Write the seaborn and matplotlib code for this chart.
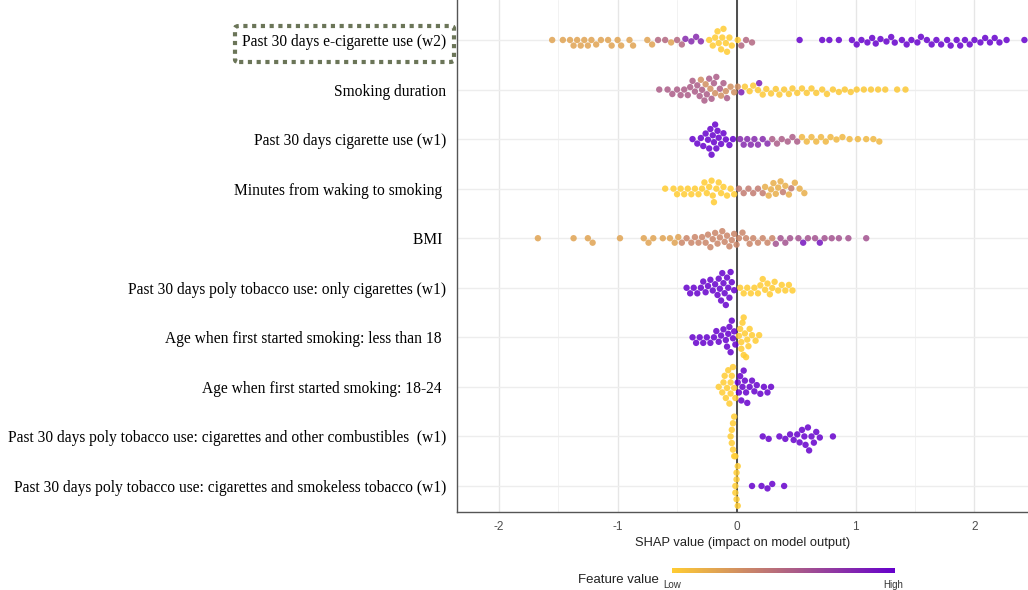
import matplotlib
matplotlib.use("Agg")
import matplotlib.pyplot as plt
from matplotlib.colors import LinearSegmentedColormap, Normalize
from matplotlib.cm import ScalarMappable
from matplotlib.patches import FancyBboxPatch
import pandas as pd
import seaborn as sns

# feature order, top to bottom
features = [
    "Past 30 days e-cigarette use (w2)",
    "Smoking duration",
    "Past 30 days cigarette use (w1)",
    "Minutes from waking to smoking ",
    "BMI ",
    "Past 30 days poly tobacco use: only cigarettes (w1)",
    "Age when first started smoking: less than 18 ",
    "Age when first started smoking: 18-24 ",
    "Past 30 days poly tobacco use: cigarettes and other combustibles  (w1)",
    "Past 30 days poly tobacco use: cigarettes and smokeless tobacco (w1)",
]

# SHAP values, grouped by approximate feature value (colour)
ecig_low = [-0.23, -0.20, -0.18, -0.16, -0.15, -0.13, -0.12, -0.11, -0.09, -0.08, -0.06,
            -0.04, 0.01]
ecig_orange = [-1.55, -1.46, -1.40, -1.37, -1.34, -1.31, -1.28, -1.25, -1.22, -1.18, -1.14,
               -1.08, -1.05, -1.00, -0.97, -0.90, -0.87, -0.75, -0.71, -0.55]
ecig_mid = [-0.66, -0.60, -0.50, -0.46, 0.04, 0.08, 0.13]
ecig_purple = [-0.43, -0.38, -0.34, -0.30]
ecig_high = [0.53, 0.72, 0.78, 0.86, 0.97, 1.01, 1.05, 1.10, 1.14, 1.17, 1.21, 1.26, 1.30, 1.33,
             1.39, 1.43, 1.47, 1.52, 1.55, 1.60, 1.64, 1.68, 1.72, 1.77, 1.80, 1.85, 1.88, 1.92,
             1.96, 2.00, 2.05, 2.09, 2.13, 2.17, 2.21, 2.27, 2.42]

dur_mid = [-0.65, -0.58, -0.54, -0.50, -0.47, -0.44, -0.41, -0.39, -0.37, -0.35, -0.33, -0.31,
           -0.29, -0.27, -0.25, -0.23, -0.21, -0.19, -0.17, -0.14, -0.11, -0.08]
dur_orange = [-0.30, -0.26, -0.22, -0.18, -0.13, -0.09, -0.05, -0.02, 0.01]
dur_high = [0.04, 0.19]
dur_low = [0.07, 0.11, 0.14, 0.18, 0.22, 0.25, 0.29, 0.33, 0.36, 0.40, 0.44, 0.47, 0.51, 0.55,
           0.59, 0.63, 0.67, 0.72, 0.76, 0.81, 0.86, 0.91, 0.96, 1.01, 1.07, 1.13, 1.19, 1.25,
           1.35, 1.42]

cig_high = [-0.37, -0.33, -0.30, -0.28, -0.26, -0.24, -0.23, -0.22, -0.21, -0.20, -0.19, -0.18,
            -0.17, -0.16, -0.15, -0.13, -0.11, -0.09, -0.06, -0.03]
cig_purplish = [0.03, 0.06, 0.09, 0.12, 0.15, 0.18, 0.22, 0.26]
cig_mid = [0.30, 0.34, 0.38, 0.43, 0.47, 0.51]
cig_low = [0.55, 0.59, 0.63, 0.67, 0.71, 0.75, 0.79, 0.84, 0.89, 0.95, 1.02, 1.09, 1.15, 1.20]

wake_low = [-0.60, -0.53, -0.50, -0.47, -0.44, -0.41, -0.38, -0.35, -0.32, -0.29, -0.27, -0.25,
            -0.23, -0.21, -0.20, -0.19, -0.17, -0.15, -0.13, -0.11, -0.08, -0.05, -0.02]
wake_mid = [0.02, 0.06, 0.10, 0.14, 0.18, 0.22, 0.39, 0.46]
wake_orange = [0.24, 0.27, 0.29, 0.31, 0.33, 0.35, 0.37, 0.41, 0.44, 0.49, 0.53, 0.57]

bmi_orange = [-1.67, -1.37, -1.25, -1.21, -0.98, -0.78, -0.74, -0.70, -0.62, -0.56, -0.52, -0.49]
bmi_mix = [-0.46, -0.42, -0.38, -0.35, -0.32, -0.29, -0.26, -0.24, -0.22, -0.20, -0.18, -0.16,
           -0.14, -0.12, -0.10, -0.08, -0.06, -0.04, -0.02, 0.00, 0.02, 0.05, 0.08, 0.11, 0.14,
           0.18, 0.22, 0.26, 0.30]
bmi_mid = [0.33, 0.37, 0.41, 0.45, 0.52, 0.60, 0.66, 0.74, 0.80, 0.86, 0.94, 1.09]
bmi_high = [0.56, 0.70]

only_high = [-0.42, -0.39, -0.36, -0.33, -0.30, -0.28, -0.26, -0.24, -0.22, -0.20, -0.18, -0.16,
             -0.15, -0.14, -0.13, -0.12, -0.11, -0.10, -0.09, -0.08, -0.07, -0.06, -0.05, -0.04,
             -0.02]
only_low = [0.03, 0.06, 0.09, 0.12, 0.15, 0.18, 0.20, 0.22, 0.24, 0.26, 0.28, 0.30, 0.32, 0.35,
            0.38, 0.41, 0.44, 0.47]

lt18_high = [-0.37, -0.34, -0.31, -0.28, -0.25, -0.22, -0.19, -0.17, -0.15, -0.13, -0.11, -0.09,
             -0.08, -0.07, -0.06, -0.05, -0.04, -0.03, -0.02, -0.01]
lt18_low = [0.02, 0.03, 0.04, 0.04, 0.05, 0.06, 0.06, 0.07, 0.08, 0.09, 0.10, 0.11, 0.13, 0.16,
            0.19]

age1824_low = [-0.15, -0.12, -0.11, -0.10, -0.09, -0.08, -0.07, -0.06, -0.05, -0.05, -0.04,
               -0.03, -0.02, -0.01]
age1824_high = [0.01, 0.02, 0.03, 0.04, 0.05, 0.06, 0.07, 0.08, 0.09, 0.11, 0.13, 0.15, 0.17,
                0.20, 0.23, 0.26, 0.29]

comb_low = [-0.05, -0.04, -0.04, -0.03, -0.03, -0.02, -0.02, -0.01]
comb_high = [0.22, 0.27, 0.36, 0.41, 0.45, 0.48, 0.51, 0.53, 0.55, 0.57, 0.58, 0.60, 0.61, 0.63,
             0.65, 0.67, 0.70, 0.81]

smokeless_low = [-0.01, -0.01, 0.00, 0.00, 0.00, 0.01, 0.01]
smokeless_high = [0.13, 0.21, 0.26, 0.30, 0.40]

groups = [
    (features[0], 0.0, ecig_low), (features[0], 0.2, ecig_orange),
    (features[0], 0.5, ecig_mid), (features[0], 0.8, ecig_purple), (features[0], 1.0, ecig_high),
    (features[1], 0.55, dur_mid), (features[1], 0.3, dur_orange),
    (features[1], 0.85, dur_high), (features[1], 0.02, dur_low),
    (features[2], 1.0, cig_high), (features[2], 0.8, cig_purplish),
    (features[2], 0.55, cig_mid), (features[2], 0.1, cig_low),
    (features[3], 0.0, wake_low), (features[3], 0.4, wake_mid), (features[3], 0.15, wake_orange),
    (features[4], 0.2, bmi_orange), (features[4], 0.35, bmi_mix),
    (features[4], 0.6, bmi_mid), (features[4], 0.9, bmi_high),
    (features[5], 1.0, only_high), (features[5], 0.0, only_low),
    (features[6], 1.0, lt18_high), (features[6], 0.0, lt18_low),
    (features[7], 0.0, age1824_low), (features[7], 1.0, age1824_high),
    (features[8], 0.0, comb_low), (features[8], 1.0, comb_high),
    (features[9], 0.0, smokeless_low), (features[9], 1.0, smokeless_high),
]

rows = []
for feat, fval, vals in groups:
    for v in vals:
        rows.append((feat, fval, v))
df = pd.DataFrame(rows, columns=["feature", "fval", "shap"])

sns.set_style("white")
plt.rcParams["font.family"] = ["Liberation Sans", "DejaVu Sans"]
plt.rcParams["axes.unicode_minus"] = False

cmap = LinearSegmentedColormap.from_list("shap", ["#FFCC33", "#6600CC"])

fig = plt.figure(figsize=(10.28, 5.9), dpi=100)
ax = fig.add_axes([457 / 1028, 1 - 512 / 590, 1 - 457 / 1028, 512 / 590])

ax.axvline(0, color="#4d4d4d", lw=1.4, zorder=1)
sns.swarmplot(data=df, x="shap", y="feature", hue="fval", palette=cmap, hue_norm=(0, 1),
              order=features, size=4.6, alpha=0.85, linewidth=0, legend=False,
              warn_thresh=1.0, ax=ax, zorder=3)

ax.set_xlim(-2.35, 2.45)
ax.set_ylim(9.525, -0.807)
ax.set_xticks([-2, -1, 0, 1, 2])
ax.set_xticks([-1.5, -0.5, 0.5, 1.5], minor=True)
ax.set_axisbelow(True)
ax.grid(axis="x", which="major", color="#e6e6e6", lw=1.0)
ax.grid(axis="x", which="minor", color="#f2f2f2", lw=0.7)
ax.grid(axis="y", which="major", color="#ededed", lw=1.0)

for side in ["top", "right"]:
    ax.spines[side].set_visible(False)
for side in ["left", "bottom"]:
    ax.spines[side].set_color("#555555")
    ax.spines[side].set_linewidth(1.0)

ax.tick_params(axis="y", length=0, pad=8, labelsize=11.2, labelcolor="black")
for lbl in ax.get_yticklabels():
    lbl.set_fontfamily("Liberation Serif")
ax.tick_params(axis="x", which="major", length=3.5, color="#555555", labelcolor="#4d4d4d",
               labelsize=8.5, pad=3)
ax.tick_params(axis="x", which="minor", length=0)
ax.set_ylabel("")
ax.set_xlabel("SHAP value (impact on model output)", fontsize=9.3, color="#222222", labelpad=3)

# colour bar legend
cax = fig.add_axes([672 / 1028, 1 - 573 / 590, 223 / 1028, 5.5 / 590])
cb = fig.colorbar(ScalarMappable(norm=Normalize(0, 1), cmap=cmap), cax=cax,
                  orientation="horizontal")
cb.outline.set_visible(False)
cb.set_ticks([])
fig.text(578 / 1028, 1 - 580 / 590, "Feature value", fontsize=9.5, color="#222222",
         ha="left", va="center")
fig.text(663 / 1028, 1 - 585 / 590, "Low", fontsize=7, color="#333333", ha="left", va="center")
fig.text(883 / 1028, 1 - 585 / 590, "High", fontsize=7, color="#333333", ha="left", va="center")

# dotted highlight round the top feature
box = FancyBboxPatch((235 / 1028, 1 - 62 / 590), 219 / 1028, 36 / 590,
                     boxstyle="round,pad=0,rounding_size=0.004", transform=fig.transFigure,
                     fill=False, edgecolor="#6b7558", lw=3, ls=(0, (1, 1.1)))
fig.patches.append(box)

fig.savefig("out.png", dpi=100)
